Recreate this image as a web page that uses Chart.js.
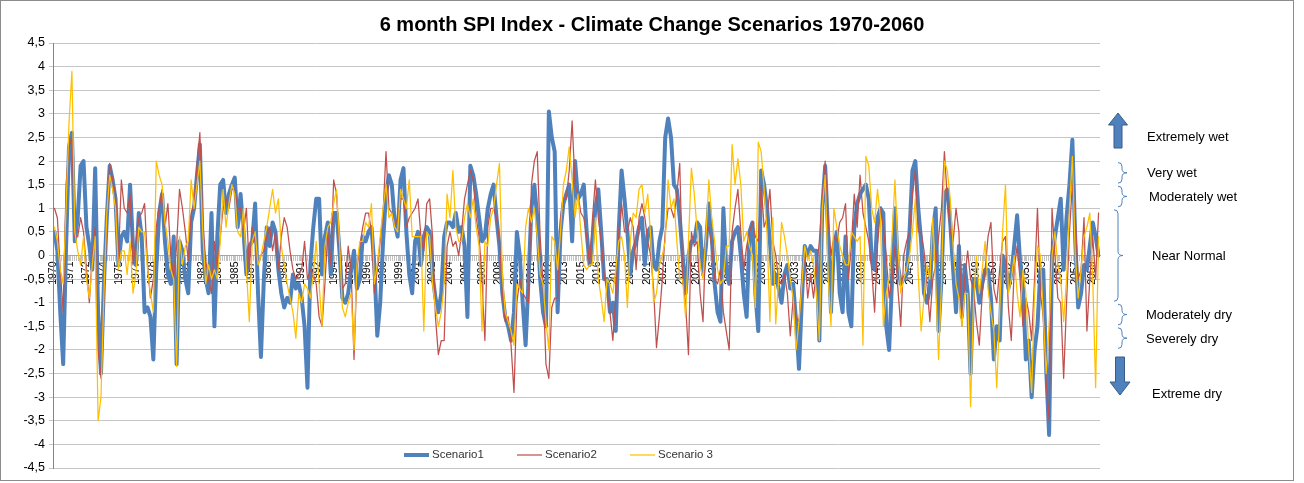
<!DOCTYPE html>
<html>
<head>
<meta charset="utf-8">
<title>6 month SPI Index - Climate Change Scenarios 1970-2060</title>
<script src="https://cdn.jsdelivr.net/npm/chart.js@4.4.1/dist/chart.umd.min.js"></script>
<style>
  html, body { margin: 0; padding: 0; background: #ffffff; }
  #wrap { position: relative; width: 1304px; height: 483px; }
</style>
</head>
<body>
<div id="wrap"><canvas id="spiChart" width="1304" height="483"></canvas></div>
<script>
// SPI values, one reading per quarter (1970 Q1 .. 2059 Q4)
const MONTHS = 1080;      // 1970-01 .. 2059-12
const MONTHS_PER_POINT = 3;
const LABEL_STEP = 17;    // Excel shows every 17th month label

const tickYears = [
    1970, 1971, 1972, 1974, 1975, 1977, 1978, 1979, 1981, 1982, 1984, 1985, 1987, 1988, 1989, 1991,
    1992, 1994, 1995, 1996, 1998, 1999, 2001, 2002, 2004, 2005, 2006, 2008, 2009, 2011, 2012, 2013,
    2015, 2016, 2018, 2019, 2021, 2022, 2023, 2025, 2026, 2028, 2029, 2030, 2032, 2033, 2035, 2036,
    2038, 2039, 2040, 2042, 2043, 2045, 2046, 2047, 2049, 2050, 2052, 2053, 2055, 2056, 2057, 2059
];

const scenario1 = [
    0.5, 0.1, -1.2, -2.3,  0.2, 2.3, 2.6, 0.3,  0.8, 1.9, 2.0, 0.6,  0.2, -0.3, 1.85, -1.2,  -2.5, -0.6, 0.8, 1.9,
    1.6, 1.2, -0.2, 0.4,  0.5, 0.3, 1.5, 0.2,  -0.2, 0.9, 0.4, -1.2,  -1.1, -1.3, -2.2, -0.3,  0.9, 1.3, 0.3, -0.4,
    -0.6, 0.4, -2.3, 0.3,  0.1, -0.5, -0.8, 0.7,  1.0, 1.7, 2.35, 0.1,  -0.5, -0.8, 0.9, -1.5,  0.4, 1.5, 1.6, 0.9,
    1.3, 1.5, 1.65, 0.6,  1.3, 0.5, -0.4, 0.2,  0.3, 1.1, -0.8, -2.15,  -0.5, 0.6, 0.2, 0.7,  0.5, -0.3, -0.8, -1.1,
    -0.9, -1.0, -0.4, -0.7,  -0.6, -0.9, -1.5, -2.8,  -0.2, 0.6, 1.2, 1.2,  -0.4, 0.4, 0.7, -0.4,  0.9, 0.9, 0.1, -0.9,
    -1.0, -0.8, -0.3, 0.1,  -0.7, -0.5, 0.4, 0.3,  0.5, 0.6, -0.2, -1.7,  -1.0, 0.3, 1.3, 1.7,  1.5, 0.7, 0.4, 1.6,
    1.85, 0.5, -0.4, -0.8,  0.3, 0.5, -0.2, 0.4,  0.6, 0.5, -0.4, -0.9,  -1.2, -0.8, 0.4, 0.7,  0.7, 0.6, 0.9, 0.5,
    0.6, 0.2, -1.3, 1.9,  1.7, 1.3, 0.8, 0.3,  0.4, 1.0, 1.3, 1.5,  0.8, 0.2, -0.8, -1.3,  -1.5, -1.8, -1.2, 0.5,
    0.0, -1.0, -1.9, -0.5,  1.0, 1.5, 0.8, -0.5,  -1.2, -1.5, 3.05, 2.5,  2.2, -1.2, 0.5, 1.1,  1.3, 1.5, 0.3, 2.0,
    1.2, 1.3, 1.5, 0.5,  -0.2, 0.3, 1.0, 1.4,  0.5, -0.5, -0.5, -1.2,  -1.0, -1.6, 0.5, 1.8,  1.2, 0.5, -0.4, 0.1,
    0.3, 0.6, 0.8, -0.2,  0.5, 0.6, -0.2, -0.3,  0.3, 0.6, 2.5, 2.9,  2.5, 1.5, 1.4, 0.8,  0.0, -0.8, 0.0, 0.3,
    0.3, 0.7, 0.6, -0.4,  0.2, 1.1, 0.4, -0.6,  -1.2, -1.4, 1.0, -0.3,  -0.6, 0.3, 0.5, 0.6,  0.0, -0.8, -1.3, 0.5,
    0.7, -0.8, -1.6, 1.8,  1.5, 1.0, 0.3, -0.6,  -0.4, -0.7, -1.0, -0.4,  -0.2, -0.7, -0.6, -1.4,  -2.4, -0.9, 0.2, 0.0,
    0.2, 0.1, 0.1, -1.8,  1.0, 1.9, 0.5, -1.2,  0.2, 0.5, -0.8, -1.2,  0.4, -1.2, -1.5, 0.6,  1.1, 1.3, 1.4, 1.5,
    1.2, -0.1, -0.3, 0.8,  1.0, 0.9, -1.5, -2.0,  -0.5, 1.0, -0.2, -0.6,  -0.5, -0.4, 0.5, 1.8,  2.0, 1.0, 0.3, -0.8,
    -1.0, -0.7, 0.5, 1.0,  -1.6, -0.5, 1.3, 1.4,  0.7, -0.3, -1.2, 0.2,  -1.3, -0.2, -0.8, -2.5,  -0.5, -0.5, -1.0, -0.6,
    -0.3, -0.3, -0.9, -2.2,  -1.5, -1.8, 0.0, -0.2,  -0.7, -0.4, 0.2, 0.85,  -0.1, -0.6, -2.2, -1.8,  -3.0, -2.0, -1.5, -0.3,
    -0.3, -2.4, -3.8, 0.0,  0.4, 0.8, 1.2, -0.3,  0.8, 1.5, 2.45, 0.3,  -1.1, -0.8, -0.2, -0.3,  0.2, 0.7, 0.4, 0.0
];

const scenario2 = [
    1.0, 0.8, -0.3, -1.2,  1.5, 2.3, 2.5, 0.4,  0.4, 0.8, 0.5, -0.3,  -1.0, 0.0, 0.6, -2.0,  -2.6, -0.9, 0.7, 1.95,
    1.6, 1.3, -0.1, 1.6,  1.0, 0.9, 1.3, -0.2,  0.3, 0.8, 0.9, 1.1,  -0.2, -0.9, -0.5, 0.6,  1.0, 1.4, 0.6, 1.1,
    0.0, -0.5, 0.2, 1.4,  1.0, 0.5, -0.1, 0.9,  1.1, 1.9, 2.6, 0.7,  -0.1, -0.5, -0.8, 0.3,  -0.3, 0.4, 1.0, 1.2,
    1.0, 1.4, 1.4, 1.0,  1.0, 0.5, 1.0, -0.3,  0.6, 0.3, -0.2, 0.0,  0.1, 0.4, 0.6, 0.1,  0.5, -0.3, 0.4, 0.8,
    0.6, 0.1, -0.3, -0.5,  -0.4, -0.3, 0.3, -0.5,  -0.3, -0.4, -0.6, -1.3,  -1.5, -0.6, 0.5, -0.2,  1.6, 1.3, 0.2, -0.7,
    -0.6, 0.2, -0.3, -2.2,  -0.3, 0.2, 0.6, 0.9,  0.9, 0.5, -0.8, -0.3,  0.3, 0.9, 2.2, 1.0,  0.9, 0.6, 0.8, 1.2,
    1.2, 0.6, 0.8, 0.9,  1.0, 1.2, 0.4, 0.1,  1.1, 1.2, 0.4, -1.3,  -2.1, -1.8, -1.8, 0.2,  0.5, 0.2, 0.3, 0.0,
    0.5, 1.2, 1.5, 1.8,  1.6, 0.8, 0.4, -0.5,  -1.8, 0.6, 1.0, 1.0,  0.8, 0.3, -0.8, -1.4,  -1.3, -1.9, -2.9, -1.0,
    -0.5, -0.8, -0.9, -1.0,  1.5, 2.0, 2.2, 0.4,  -0.6, -2.3, -2.6, -1.1,  -0.9, -0.9, 0.8, 1.2,  1.2, 1.8, 2.85, 1.5,
    1.3, 0.9, 0.8, 0.4,  -0.2, 0.8, 1.6, 0.8,  0.3, -0.4, -0.8, -1.2,  -1.8, -0.9, 0.5, 1.1,  0.5, 0.5, 0.8, 0.6,
    -0.3, 0.8, 1.1, 0.8,  0.3, 0.0, -0.7, -1.95,  -1.3, -0.5, 0.5, 1.0,  1.0, 0.8, 1.3, 1.95,  -0.5, -1.0, -2.1, 0.5,
    0.2, 0.3, -0.8, -1.4,  0.5, 0.6, 0.2, -0.5,  -0.6, -0.3, -1.2, -1.6,  -2.0, 0.5, 1.0, 1.4,  0.5, -0.3, 0.2, 0.5,
    0.7, 0.4, 0.3, 1.5,  0.6, 0.8, 1.4, 0.3,  0.0, -0.5, -0.6, -0.4,  -0.8, -1.7, -0.9, -1.3,  -1.4, -0.5, 0.0, -0.9,
    -0.4, -0.9, -0.3, 0.3,  1.2, 2.0, 0.8, 0.0,  0.4, 0.3, 0.7, 0.8,  1.1, -0.5, 0.2, 1.3,  0.6, 1.7, 0.9, 0.6,
    0.3, -0.3, -1.2, 0.2,  1.0, 0.6, 0.0, -0.9,  -0.5, 0.2, -0.7, -1.5,  0.0, 0.3, 0.5, 1.3,  1.8, 0.5, 0.5, 0.1,
    -0.6, -1.4, -0.5, -0.2,  0.4, 1.0, 2.2, 1.2,  0.5, 0.3, 1.0, 0.5,  -1.5, -0.5, 0.1, -0.5,  -0.7, -1.4, -1.9, -0.8,
    -0.3, 0.4, 0.7, -0.7,  -1.0, -0.3, 0.3, 0.4,  -1.1, -1.8, -0.3, 0.2,  -0.5, -1.5, -0.9, -1.2,  -1.8, -0.5, 1.0, -0.8,
    -1.3, -2.7, -3.5, 1.0,  0.0, -0.9, -1.0, -2.6,  -1.0, 0.5, 1.5, 0.8,  -0.5, -0.3, 0.8, -1.6,  -0.5, 0.4, -0.5, 0.9
];

const scenario3 = [
    0.6, 0.3, -0.3, -0.6,  1.0, 2.8, 3.9, 0.5,  0.1, -0.2, 0.4, -0.5,  -0.9, -0.2, 0.4, -3.5,  -3.0, -0.8, 0.9, 1.7,
    1.4, 1.0, -0.3, 0.1,  0.1, -0.4, 0.3, -0.8,  -0.4, 0.6, 0.5, 0.5,  -0.3, -0.8, -1.2, 2.0,  1.7, 1.5, 0.7, 0.3,
    -0.3, -0.5, -2.35, 0.4,  -0.2, 0.2, 0.3, 1.6,  1.0, 1.5, 2.0, 0.5,  -0.6, -0.2, -0.5, -0.3,  -0.5, 0.3, 1.4, 0.6,
    1.1, 1.5, 1.3, 0.5,  0.4, 1.0, -0.3, -1.4,  0.3, 0.5, -0.2, 0.0,  0.3, 0.6, 1.0, 1.4,  0.9, 1.2, 0.2, -0.2,
    -0.6, -0.9, -1.2, -1.75,  -0.8, -1.0, -0.6, -0.7,  -0.9, -0.4, 0.3, -0.6,  -1.5, 0.2, 0.6, 0.7,  1.1, 1.4, 0.3, -1.1,
    -1.3, -1.0, -0.8, -2.0,  -0.2, 0.3, 0.3, 0.7,  0.6, 1.1, -0.6, -0.2,  0.4, 1.0, 1.5, 0.8,  0.9, 0.6, 0.5, 1.4,
    1.2, 1.0, 1.6, 0.4,  0.4, 0.4, 0.4, -1.6,  0.5, 0.4, -0.6, -1.1,  -1.5, -1.2, -0.6, 1.3,  0.8, 1.8, 0.6, 0.3,
    0.3, 0.8, 1.1, 0.8,  1.2, 0.6, 0.2, -1.6,  0.3, 0.2, 0.8, 1.0,  1.5, 1.95, -0.4, -1.2,  -1.4, -1.6, -1.9, -0.6,
    -0.7, -0.8, 0.6, 1.0,  0.7, 1.0, 0.4, -0.4,  -0.6, -1.4, -2.0, 0.4,  0.3, -0.3, 0.5, 1.5,  1.8, 2.3, 1.6, 0.8,
    1.3, 0.5, -0.2, -0.3,  -0.2, -0.2, 0.8, -0.5,  -0.9, -1.4, -0.5, -0.6,  -0.8, -0.3, 0.3, 0.4,  0.0, -1.1, 0.3, 0.9,
    0.8, 1.4, 1.5, 0.9,  1.3, 0.4, -1.0, -0.8,  -0.2, 0.0, 0.3, 1.6,  1.0, 1.2, 0.3, -0.5,  -0.5, -1.3, 0.3, 1.85,
    1.3, 0.5, -0.2, -0.5,  0.4, 1.6, 0.8, 0.3,  -0.3, -0.6, -0.5, 0.2,  0.2, 2.35, 1.5, 2.05,  1.5, 0.3, 0.5, 0.2,
    0.0, -1.1, 2.4, 2.2,  1.4, 0.5, -1.4, 0.8,  -1.45, -0.5, 0.7, 0.4,  0.0, -0.5, -0.9, -2.0,  -1.4, -0.6, 0.2, -0.1,
    0.1, -0.2, -0.8, -1.8,  1.0, 1.7, -0.4, -1.5,  1.0, 0.6, 0.2, 0.0,  -0.2, -0.2, 0.5, 0.4,  0.3, 0.4, -1.9, 2.1,
    1.9, 1.0, 0.7, 1.4,  0.8, -1.5, -0.8, -0.5,  0.4, 1.6, 0.2, -0.8,  -0.5, -0.3, 0.0, 0.5,  1.2, -0.4, -1.6, -0.9,
    -0.2, -0.5, 0.8, -0.6,  -2.2, -0.6, 2.0, 1.8,  1.2, 0.2, -0.6, -0.9,  -1.5, -0.8, -0.8, -3.2,  -1.0, 0.0, -0.8, -0.3,
    0.3, -0.7, -1.2, -1.6,  -2.8, -1.2, 0.5, 1.5,  -0.8, -0.5, 0.0, -0.8,  -1.3, -0.3, -0.8, -2.0,  -2.9, -0.8, 0.2, 0.0,
    -1.3, -2.5, -1.5, 0.0,  0.5, -0.2, -0.5, -1.4,  -0.5, 1.0, 2.1, 0.0,  -0.9, -0.3, 0.4, 0.6,  0.9, -0.5, -2.8, 0.4
];

// SPI classes shown as braces on the right
const spiClasses = [
    { label: 'Very wet',       from: 1.5,  to: 2.0 },
    { label: 'Moderately wet', from: 1.0,  to: 1.5 },
    { label: 'Near Normal',    from: -1.0, to: 1.0 },
    { label: 'Moderately dry', from: -1.5, to: -1.0 },
    { label: 'Severely dry',   from: -2.0, to: -1.5 }
];

const COLORS = {
    s1: '#4F81BD',
    s2: '#C0504D',
    s3: '#FFC000',
    grid: '#c6c6c6',
    axis: '#a6a6a6',
    text: '#000000'
};
const FONT = '"Liberation Sans", Arial, sans-serif';

// quarter i sits at the middle month of that quarter
function toPoints(values) {
    return values.map((v, i) => ({ x: i * MONTHS_PER_POINT + 1, y: v }));
}

function drawBrace(ctx, x, top, bottom) {
    const mid = (top + bottom) / 2;
    ctx.beginPath();
    ctx.moveTo(x, top);
    ctx.quadraticCurveTo(x + 4, top, x + 4, top + 4);
    ctx.lineTo(x + 4, mid - 4);
    ctx.quadraticCurveTo(x + 4, mid, x + 9, mid);
    ctx.quadraticCurveTo(x + 4, mid, x + 4, mid + 4);
    ctx.lineTo(x + 4, bottom - 4);
    ctx.quadraticCurveTo(x + 4, bottom, x, bottom);
    ctx.stroke();
}

function drawBlockArrow(ctx, cx, tipY, baseY, headW, shaftW, headH) {
    const dir = baseY > tipY ? 1 : -1;
    ctx.beginPath();
    ctx.moveTo(cx, tipY);
    ctx.lineTo(cx + headW / 2, tipY + dir * headH);
    ctx.lineTo(cx + shaftW / 2, tipY + dir * headH);
    ctx.lineTo(cx + shaftW / 2, baseY);
    ctx.lineTo(cx - shaftW / 2, baseY);
    ctx.lineTo(cx - shaftW / 2, tipY + dir * headH);
    ctx.lineTo(cx - headW / 2, tipY + dir * headH);
    ctx.closePath();
    ctx.fill();
    ctx.stroke();
}

const overlayPlugin = {
    id: 'overlay',
    afterDraw(chart) {
        const ctx = chart.ctx;
        const y = chart.scales.y;
        ctx.save();

        // title
        ctx.fillStyle = COLORS.text;
        ctx.font = 'bold 20px ' + FONT;
        ctx.textAlign = 'center';
        ctx.textBaseline = 'middle';
        ctx.fillText('6 month SPI Index - Climate Change Scenarios 1970-2060', 652, 25);

        // legend inside the plot, near the bottom
        const legendItems = [
            { x: 404, textX: 432, ds: chart.data.datasets[0] },
            { x: 517, textX: 545, ds: chart.data.datasets[1] },
            { x: 630, textX: 658, ds: chart.data.datasets[2] }
        ];
        ctx.font = '11.5px ' + FONT;
        ctx.textAlign = 'left';
        legendItems.forEach(item => {
            ctx.strokeStyle = item.ds.borderColor;
            ctx.lineWidth = item.ds.borderWidth;
            ctx.beginPath();
            ctx.moveTo(item.x, 455);
            ctx.lineTo(item.x + 25, 455);
            ctx.stroke();
            ctx.fillStyle = '#333333';
            ctx.fillText(item.ds.label, item.textX, 455);
        });

        // class braces and labels
        ctx.strokeStyle = COLORS.s1;
        ctx.lineWidth = 1;
        ctx.font = '13px ' + FONT;
        ctx.fillStyle = COLORS.text;
        const labelX = [1147, 1149, 1152, 1146, 1146];
        spiClasses.forEach((c, i) => {
            const top = y.getPixelForValue(c.to) + 1.5;
            const bottom = y.getPixelForValue(c.from) - 1.5;
            drawBrace(ctx, i === 2 ? 1114 : 1118, top, bottom);
            ctx.fillText(c.label, labelX[i], (top + bottom) / 2 + 1);
        });

        // extreme arrows
        ctx.fillStyle = COLORS.s1;
        ctx.strokeStyle = '#385D8A';
        ctx.lineWidth = 1;
        drawBlockArrow(ctx, 1118, 113, 148, 19, 8, 12);
        drawBlockArrow(ctx, 1120, 395, 357, 20, 9, 13);
        ctx.fillStyle = COLORS.text;
        ctx.fillText('Extremely wet', 1147, 137);
        ctx.fillText('Extreme dry', 1152, 394);

        // outer frame
        ctx.strokeStyle = '#8c8c8c';
        ctx.lineWidth = 1;
        ctx.strokeRect(0.5, 0.5, 1293, 480);
        ctx.restore();
    }
};

const lineStyle = {
    pointRadius: 0,
    tension: 0,
    borderJoinStyle: 'round',
    borderCapStyle: 'round',
    fill: false
};

new Chart(document.getElementById('spiChart'), {
    type: 'line',
    data: {
        datasets: [
            { ...lineStyle, label: 'Scenario1', data: toPoints(scenario1), borderColor: COLORS.s1, borderWidth: 4, order: 3 },
            { ...lineStyle, label: 'Scenario2', data: toPoints(scenario2), borderColor: COLORS.s2, borderWidth: 1.25, order: 2 },
            { ...lineStyle, label: 'Scenario 3', data: toPoints(scenario3), borderColor: COLORS.s3, borderWidth: 1.25, order: 1 }
        ]
    },
    options: {
        responsive: false,
        animation: false,
        devicePixelRatio: 1,
        layout: { padding: { left: 0, right: 204, top: 43, bottom: 15 } },
        plugins: {
            legend: { display: false },
            title: { display: false },
            tooltip: { enabled: false }
        },
        scales: {
            x: {
                type: 'linear',
                position: { y: 0 },
                min: -0.5,
                max: MONTHS - 0.5,
                afterBuildTicks: scale => {
                    const ticks = [];
                    for (let m = 0; m < MONTHS; m += 2) ticks.push({ value: m });
                    for (let k = 0; k < tickYears.length; k++) {
                        if ((k * LABEL_STEP) % 2) ticks.push({ value: k * LABEL_STEP });
                    }
                    ticks.sort((a, b) => a.value - b.value);
                    scale.ticks = ticks;
                },
                ticks: {
                    autoSkip: false,
                    minRotation: 90,
                    maxRotation: 90,
                    padding: 1,
                    color: COLORS.text,
                    font: { family: FONT, size: 10.5 },
                    callback: value => value % LABEL_STEP === 0 ? String(tickYears[value / LABEL_STEP]) : ''
                },
                grid: { drawOnChartArea: false, drawTicks: true, tickLength: 5, color: '#c4c4c4' },
                border: { color: COLORS.axis }
            },
            y: {
                min: -4.5,
                max: 4.5,
                afterFit: scale => { scale.width = 53; },
                ticks: {
                    stepSize: 0.5,
                    padding: 4,
                    color: COLORS.text,
                    font: { family: FONT, size: 12.5 },
                    callback: value => String(value).replace('.', ',')
                },
                grid: { color: COLORS.grid, tickLength: 4 },
                border: { color: '#868686' }
            }
        }
    },
    plugins: [overlayPlugin]
});
</script>
</body>
</html>
